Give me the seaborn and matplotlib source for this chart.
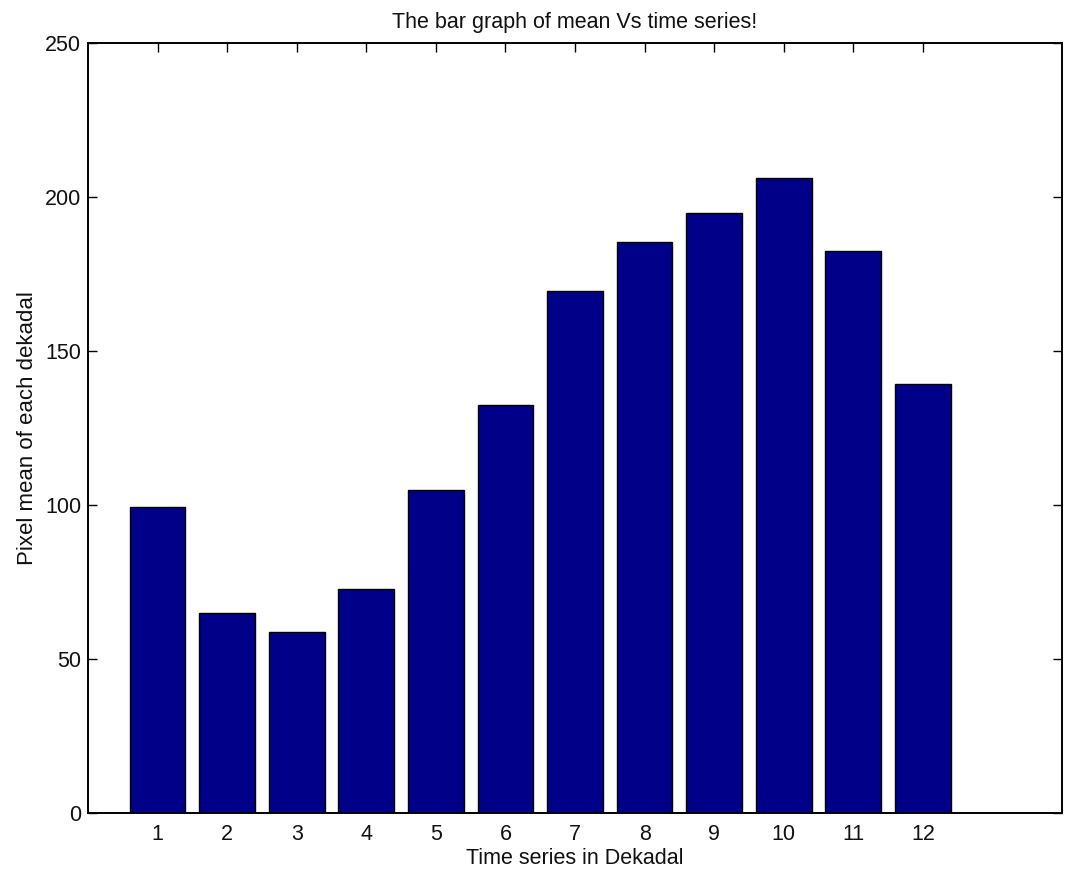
import matplotlib
matplotlib.use("Agg")
import matplotlib.pyplot as plt
import seaborn as sns
import pandas as pd

# Mean pixel value for each dekadal period
dekadals = [str(i) for i in range(1, 13)]
pixel_means = [99.5, 64.9, 58.8, 72.8, 105.0, 132.7, 169.7, 185.4, 194.8, 206.2, 182.7, 139.4]
y_ticks = [0, 50, 100, 150, 200, 250]

df = pd.DataFrame({"dekadal": dekadals, "mean": pixel_means})

sns.set_theme(style="white")
plt.rcParams["font.family"] = ["Liberation Sans", "DejaVu Sans"]

fig = plt.figure(figsize=(10.76, 8.71), dpi=100)
ax = fig.add_axes([0.0818, 0.0662, 0.9052, 0.8841])

sns.barplot(data=df, x="dekadal", y="mean", order=dekadals, color="#000088",
            saturation=1, width=0.8, edgecolor="black", linewidth=1.0, ax=ax)

ax.set_xlim(-1, 13)
ax.set_ylim(0, 250)
ax.set_yticks(y_ticks)
ax.set_yticklabels([str(v) for v in y_ticks])

for side in ["left", "right", "top", "bottom"]:
    ax.spines[side].set_visible(True)
    ax.spines[side].set_color("black")
    ax.spines[side].set_linewidth(1.4)

fs = 15.5
ax.tick_params(axis="y", direction="in", length=6.5, width=1.0, color="black",
               left=True, right=True, labelsize=fs, labelcolor="#111111", pad=5)
ax.tick_params(axis="x", direction="in", length=6.5, width=1.0, color="black",
               bottom=False, top=True, labelsize=fs, labelcolor="#111111", pad=8)

ax.set_xlabel("Time series in Dekadal", fontsize=fs, color="#111111", labelpad=2)
ax.set_ylabel("Pixel mean of each dekadal", fontsize=16, color="#111111", labelpad=5)
ax.set_title("The bar graph of mean Vs time series!", fontsize=fs, color="#111111", pad=11)

fig.savefig("out.png", dpi=100, facecolor="white")
